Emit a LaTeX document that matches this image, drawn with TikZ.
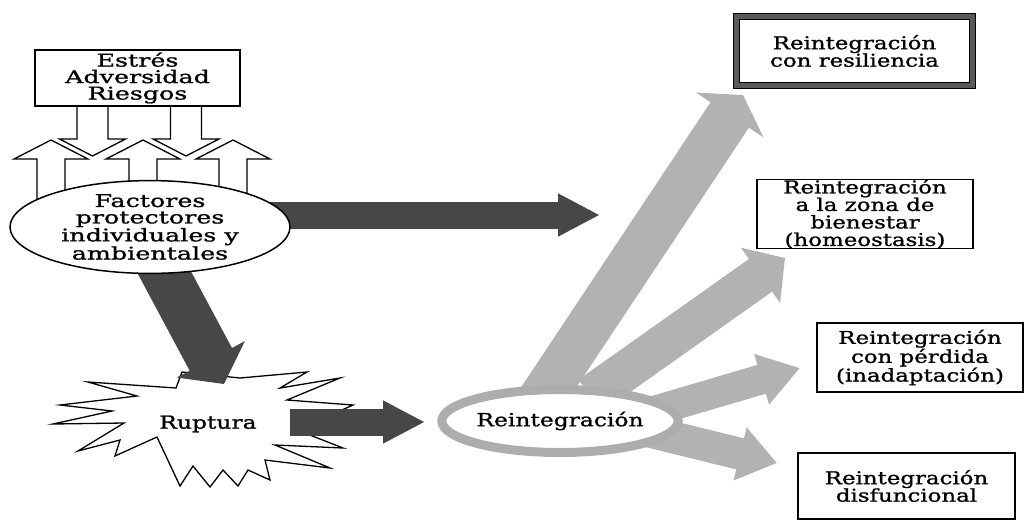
\documentclass[tikz,border=0pt]{standalone}
\usepackage{fontspec}
\setmainfont{DejaVu Serif}[FakeStretch=1.3,FakeBold=1.2]
\newfontfamily\widefont{DejaVu Serif}[FakeStretch=1.45,FakeBold=1.2]
\usetikzlibrary{arrows.meta,shapes.geometric,positioning}

\begin{document}
\begin{tikzpicture}[x=1pt,y=-1pt,
    box/.style={draw, line width=1.5pt, fill=white, align=center, inner sep=0pt, font=\fontsize{17.6}{17.5}\selectfont},
    lbox/.style={box, font=\widefont\fontsize{17.5}{16.5}\selectfont},
    hollow/.style={draw, fill=white, line width=1.3pt, line join=miter},
    darkarr/.style={black!72, -{Triangle[length=42pt,width=40pt]}},
    grayarr/.style={black!30}
]
\fill[white] (0,0) rectangle (1025,520);
\useasboundingbox (0,0) rectangle (1025,520);

% up and down hollow arrows
\foreach \cx in {51,143,233}
  \draw[hollow] ({\cx-14},245) -- ({\cx-14},159) -- ({\cx-37},159) -- (\cx,140) -- ({\cx+37},159) -- ({\cx+14},159) -- ({\cx+14},245);
\foreach \cx in {92.5,186}
  \draw[hollow] ({\cx-15.5},104) -- ({\cx-15.5},139) -- ({\cx-33},139) -- (\cx,156) -- ({\cx+33},139) -- ({\cx+15.5},139) -- ({\cx+15.5},104);

\node[lbox, minimum width=205pt, minimum height=56pt] (stress) at (137.5,78) {Estrés\\Adversidad\\Riesgos};

% ruptura
\draw[line width=1.3pt, fill=white, line join=miter]
  (182,372) -- (176,388) -- (88,382) -- (137,396) -- (60,405) -- (112,411) -- (53,424) -- (124,423)
  -- (78,451) -- (120,440) -- (115,456) -- (157,437) -- (180,486) -- (193,466) -- (210,487) -- (223,470)
  -- (238,486) -- (248,470) -- (270,480) -- (265,460) -- (330,468) -- (275,445) -- (343,448) -- (297,430)
  -- (353,405) -- (287,400) -- (340,378) -- (280,388) -- (307,372) -- (240,378) -- cycle;
\node[font=\fontsize{18}{18}\selectfont] (rupture) at (208,424) {Ruptura};

\coordinate (fac-a) at (265,215);
\coordinate (fac-tip) at (600,215);
\coordinate (fac-b) at (155,255);
\coordinate (rup-tip) at (224,384);
\coordinate (rup-a) at (290,422);
\coordinate (rei-tip) at (425,422);

\draw[darkarr, line width=27pt] (fac-a) -- (fac-tip);
\draw[darkarr, line width=48pt, -{Triangle[length=28pt,width=76pt]}] (fac-b) -- (rup-tip);
\draw[darkarr, line width=27pt] (rup-a) -- (rei-tip);

\node[lbox, ellipse, minimum width=280pt, minimum height=92pt] (factors) at (150,227)
  {Factores\\protectores\\individuales y\\ambientales};

% fan of gray arrows
\coordinate (g1) at (527,420);
\coordinate (g2) at (590,396);
\coordinate (g3) at (630,418);
\coordinate (g4) at (623,425);
\coordinate (t1) at (743,95);
\coordinate (t2) at (785,258);
\coordinate (t3) at (800,368);
\coordinate (t4) at (777,463);
\draw[grayarr, line width=46pt, -{Triangle[length=24pt,width=80pt]}] (g1) -- (t1);
\draw[grayarr, line width=40pt, -{Triangle[length=30pt,width=66pt]}] (g2) -- (t2);
\draw[grayarr, line width=30pt, -{Triangle[length=40pt,width=50pt]}] (g3) -- (t3);
\draw[grayarr, line width=32pt, -{Triangle[length=38pt,width=52pt]}] (g4) -- (t4);

\node[ellipse, draw=black!32, line width=9pt, fill=white, minimum width=216pt, minimum height=63pt,
  inner sep=0pt, font=\fontsize{18}{18}\selectfont] (reint) at (560,421) {Reintegración};

\node[box, draw=black, double=black!65, double distance=5pt, line width=1pt,
  minimum width=236pt, minimum height=69pt] (resil) at (854.5,51) {Reintegración\\con resiliencia};
\node[box, minimum width=216pt, minimum height=68pt] (welfare) at (865,214)
  {Reintegración\\a la zona de\\bienestar\\(homeostasis)};
\node[box, minimum width=206pt, minimum height=69pt] (loss) at (920,357.5)
  {Reintegración\\con pérdida\\(inadaptación)};
\node[box, minimum width=217pt, minimum height=66pt] (dysf) at (906.5,486)
  {Reintegración\\disfuncional};
\end{tikzpicture}
\end{document}
